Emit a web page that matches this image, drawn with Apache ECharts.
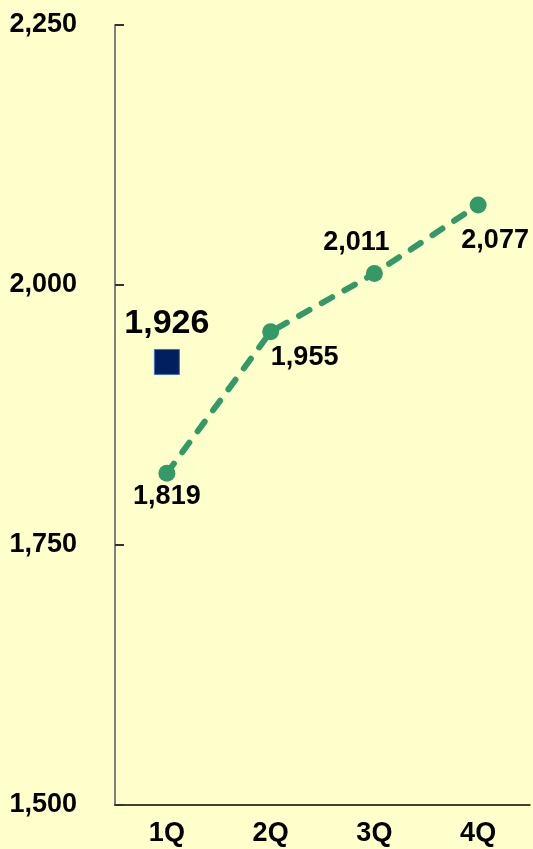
<!DOCTYPE html>
<html>
<head>
<meta charset="utf-8">
<script src="https://cdn.jsdelivr.net/npm/echarts@6/dist/echarts.min.js"></script>
<style>
  html, body { margin: 0; padding: 0; background: #ffffcc; overflow: hidden; }
  #chart { width: 100vw; height: 100vh; }
</style>
</head>
<body>
<div id="chart"></div>
<script>
const quarters = ['1Q', '2Q', '3Q', '4Q']
const lineValues = [1819, 1955, 2011, 2077]
const squareValues = [1926, null, null, null]
const yTicks = { min: 1500, max: 2250, interval: 250 }

const font = '"Liberation Sans", Arial, sans-serif'
const fmt = v => Number(v).toLocaleString('en-US')

// label placement per point (offsets from marker)
const labelOffsets = [[0, 23], [34, 26], [-18, -31], [17, 36]]

const chart = echarts.init(document.getElementById('chart'))
chart.setOption({
  backgroundColor: '#ffffcc',
  animation: false,
  grid: { left: 115, right: 3, top: 25, bottom: 44, outerBoundsMode: 'none', containLabel: false },
  xAxis: {
    type: 'category',
    data: quarters,
    boundaryGap: true,
    axisLine: { lineStyle: { color: '#000', width: 1.5 } },
    axisTick: { show: false },
    axisLabel: {
      margin: 15,
      fontFamily: font,
      fontWeight: 'bold',
      fontSize: 27,
      color: '#000'
    }
  },
  yAxis: {
    type: 'value',
    min: yTicks.min,
    max: yTicks.max,
    interval: yTicks.interval,
    axisLine: { show: true, lineStyle: { color: '#7f7f7f', width: 2 } },
    axisTick: { show: true, inside: true, length: 9, lineStyle: { color: '#333', width: 2 } },
    splitLine: { show: false },
    axisLabel: {
      margin: 38,
      fontFamily: font,
      fontWeight: 'bold',
      fontSize: 27,
      color: '#000',
      formatter: fmt
    }
  },
  series: [
    {
      type: 'line',
      data: lineValues.map((v, i) => ({
        value: v,
        label: { offset: labelOffsets[i] }
      })),
      symbol: 'circle',
      symbolSize: 17,
      itemStyle: { color: '#339966' },
      lineStyle: { color: '#339966', width: 6, type: [12, 14], cap: 'round' },
      label: {
        show: true,
        position: 'inside',
        fontFamily: font,
        fontWeight: 'bold',
        fontSize: 27,
        color: '#000',
        formatter: p => fmt(p.value)
      },
      z: 3
    },
    {
      type: 'line',
      data: squareValues,
      symbol: 'rect',
      symbolSize: 25,
      showSymbol: true,
      lineStyle: { width: 0 },
      itemStyle: { color: '#001f5f', borderColor: '#3a6fd0', borderWidth: 1 },
      label: {
        show: true,
        position: 'top',
        distance: 8,
        fontFamily: font,
        fontWeight: 'bold',
        fontSize: 34,
        color: '#000',
        formatter: p => fmt(p.value)
      },
      z: 4
    }
  ]
})
</script>
</body>
</html>
